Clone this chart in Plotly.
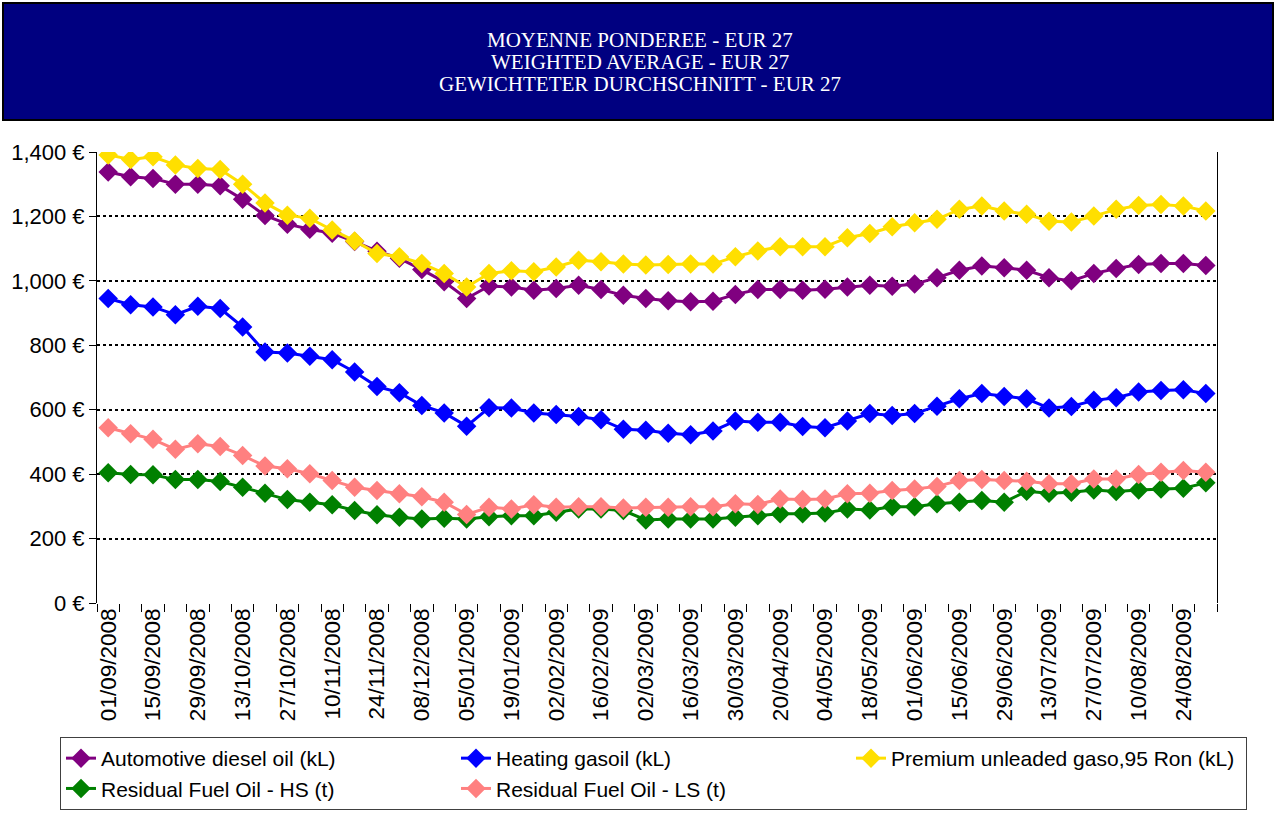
import plotly.graph_objects as go

dates = ["01/09/2008","08/09/2008","15/09/2008","22/09/2008","29/09/2008","06/10/2008","13/10/2008","20/10/2008",
         "27/10/2008","03/11/2008","10/11/2008","17/11/2008","24/11/2008","01/12/2008","08/12/2008","15/12/2008",
         "05/01/2009","12/01/2009","19/01/2009","26/01/2009","02/02/2009","09/02/2009","16/02/2009","23/02/2009",
         "02/03/2009","09/03/2009","16/03/2009","23/03/2009","30/03/2009","06/04/2009","20/04/2009","27/04/2009",
         "04/05/2009","11/05/2009","18/05/2009","25/05/2009","01/06/2009","08/06/2009","15/06/2009","22/06/2009",
         "29/06/2009","06/07/2009","13/07/2009","20/07/2009","27/07/2009","03/08/2009","10/08/2009","17/08/2009",
         "24/08/2009","31/08/2009"]

diesel = [1338,1323,1318,1300,1300,1295,1253,1203,1176,1160,1148,1122,1092,1070,1035,997,
          945,984,981,971,976,986,973,955,945,938,935,937,958,973,973,971,
          974,981,986,983,990,1010,1033,1046,1041,1033,1010,1000,1023,1038,1051,1054,1054,1048]
heating = [945,926,919,895,921,914,857,779,776,766,755,717,672,653,613,590,
           549,606,605,590,585,579,569,539,536,527,522,534,565,561,561,548,
           544,565,588,582,588,611,634,650,641,634,605,610,629,637,655,660,662,650]
premium = [1391,1377,1385,1360,1349,1346,1300,1242,1204,1194,1158,1124,1085,1075,1054,1023,
           981,1023,1031,1028,1043,1064,1059,1052,1049,1051,1052,1052,1075,1093,1106,1106,
           1106,1134,1147,1168,1180,1191,1222,1232,1217,1207,1185,1183,1201,1222,1234,1237,1232,1217]
rfo_hs = [404,399,398,383,383,377,359,341,321,313,305,287,274,266,261,263,
          261,268,271,271,282,292,292,287,258,261,261,261,266,271,277,277,
          279,292,289,299,299,308,313,318,313,347,341,344,351,346,351,354,356,373]
rfo_ls = [544,525,508,477,494,486,458,425,417,401,380,359,349,339,330,313,
          275,297,292,305,297,299,299,295,297,297,299,299,308,306,323,321,
          323,339,341,349,354,362,380,383,380,378,370,370,385,385,399,406,411,406]

series = [
    ("Automotive diesel oil (kL)", diesel, "#800080"),
    ("Heating gasoil (kL)", heating, "#0000FF"),
    ("Premium unleaded gaso,95 Ron (kL)", premium, "#FFDF00"),
    ("Residual Fuel Oil - HS (t)", rfo_hs, "#008000"),
    ("Residual Fuel Oil - LS (t)", rfo_ls, "#FF8080"),
]

title_lines = ["MOYENNE PONDEREE - EUR 27", "WEIGHTED AVERAGE - EUR 27", "GEWICHTETER DURCHSCHNITT - EUR 27"]

tick_text = [d if i % 2 == 0 else "" for i, d in enumerate(dates)]

fig = go.Figure()
for name, vals, col in series:
    fig.add_trace(go.Scatter(
        x=dates, y=vals, name=name, mode="lines+markers",
        line=dict(color=col, width=3),
        marker=dict(symbol="diamond", size=15, color=col),
    ))

# plot area pixels: left 97, right 1217, top 152, bottom 603
L, R, T, B = 97, 1217, 152, 603
W, H = R - L, B - T
def px(x): return (x - L) / W
def py(y): return (B - y) / H

annotations = []
for i, line in enumerate(title_lines):
    annotations.append(dict(
        xref="paper", yref="paper", x=px(640), y=py(40 + 22 * i), xanchor="center", yanchor="middle",
        text=line, showarrow=False,
        font=dict(family="Liberation Serif, Times New Roman", size=21, color="white"),
    ))

fig.update_layout(
    width=1274, height=821,
    margin=dict(l=L, r=1274 - R, t=T, b=821 - B, pad=0, autoexpand=False),
    paper_bgcolor="white", plot_bgcolor="white",
    font=dict(family="Liberation Sans, Arial", color="black"),
    showlegend=True,
    legend=dict(
        orientation="h", x=px(60), y=py(737), xanchor="left", yanchor="top",
        entrywidth=350, entrywidthmode="pixels",
        font=dict(size=21, family="Liberation Sans, Arial"),
        bordercolor="#404040", borderwidth=1, bgcolor="white",
        itemwidth=30, tracegroupgap=0,
    ),
    xaxis=dict(
        type="category", tickmode="array", tickvals=dates, ticktext=tick_text,
        tickson="boundaries", ticks="outside", ticklen=8, tickcolor="#000000", tickwidth=1,
        tickangle=-90, tickfont=dict(size=22.5, family="Liberation Sans, Arial"),
        showgrid=False, showline=False, zeroline=False,
        range=[-0.5, len(dates) - 0.5], automargin=False,
    ),
    yaxis=dict(
        range=[0, 1400], dtick=200, tick0=0, tickformat=",", ticksuffix=" €",
        tickfont=dict(size=22, family="Liberation Sans, Arial"),
        ticks="outside", ticklen=7, tickcolor="black",
        showgrid=True, gridcolor="black", griddash="dot", gridwidth=2,
        showline=True, linecolor="black", linewidth=1, mirror=True,
        zeroline=False, automargin=False,
    ),
    shapes=[dict(type="rect", xref="paper", yref="paper",
                 x0=px(3), x1=px(1273), y0=py(120), y1=py(3),
                 fillcolor="#000080", line=dict(color="black", width=2), layer="below")],
    annotations=annotations,
)

fig.write_html("out.html", config={"displayModeBar": False},
               post_script="document.body.style.margin='0';")
